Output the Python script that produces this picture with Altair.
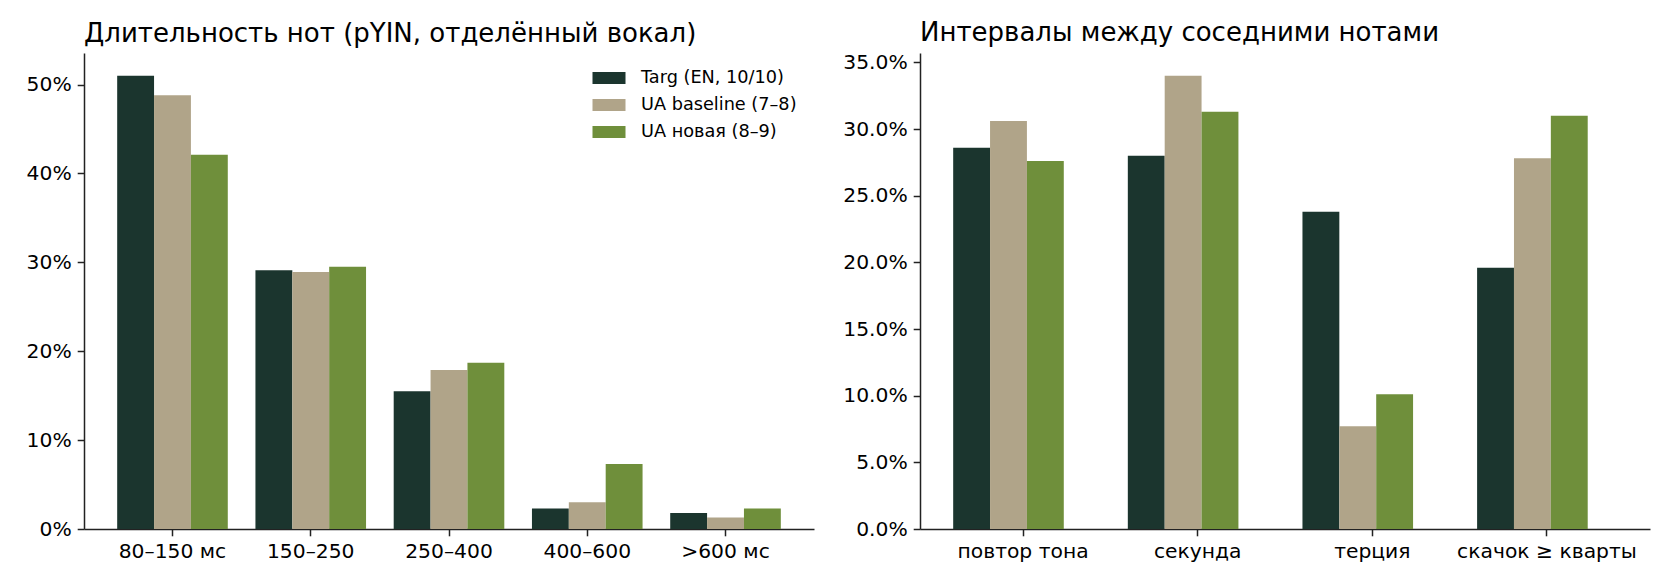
import altair as alt
import pandas as pd

# series names and colours
series = ["Targ (EN, 10/10)", "UA baseline (7–8)", "UA новая (8–9)"]
colors = ["#1b352e", "#b0a489", "#6f8f3b"]

# left panel: note durations
dur_cats = ["80–150 мс", "150–250", "250–400", "400–600", ">600 мс"]
dur_targ = [0.510, 0.291, 0.155, 0.023, 0.018]
dur_base = [0.488, 0.289, 0.179, 0.030, 0.013]
dur_new = [0.421, 0.295, 0.187, 0.073, 0.023]

# right panel: intervals between neighbouring notes
int_cats = ["повтор тона", "секунда", "терция", "скачок ≥ кварты"]
int_targ = [0.286, 0.280, 0.238, 0.196]
int_base = [0.306, 0.340, 0.077, 0.278]
int_new = [0.276, 0.313, 0.101, 0.310]


def long_df(cats, *vals):
    rows = []
    for s, v in zip(series, vals):
        for c, x in zip(cats, v):
            rows.append({"cat": c, "series": s, "value": x})
    return pd.DataFrame(rows)


FONT = "DejaVu Sans"
TICK = 20.3

dur_df = long_df(dur_cats, dur_targ, dur_base, dur_new)
int_df = long_df(int_cats, int_targ, int_base, int_new)

color_scale = alt.Scale(domain=series, range=colors)


def panel(df, cats, title, ymax, fmt, tickvals, pad_outer, legend):
    return alt.Chart(df, title=alt.TitleParams(
        title, anchor="start", frame="group", fontSize=26, font=FONT,
        fontWeight="normal", color="black", offset=-15, baseline="alphabetic")).mark_bar().encode(
        x=alt.X("cat:N", sort=cats, title=None,
                scale=alt.Scale(paddingInner=0.2, paddingOuter=pad_outer),
                axis=alt.Axis(labelAngle=0, labelFontSize=TICK, labelFont=FONT,
                              labelColor="black", tickSize=6.8, tickWidth=1.5,
                              tickColor="#222", domainColor="#222", domainWidth=1.5,
                              labelPadding=6, grid=False)),
        xOffset=alt.XOffset("series:N", sort=series,
                            scale=alt.Scale(paddingInner=0, paddingOuter=0)),
        y=alt.Y("value:Q", title=None,
                scale=alt.Scale(domain=[0, ymax], nice=False),
                axis=alt.Axis(format=fmt, values=tickvals, labelFontSize=TICK,
                              labelFont=FONT, labelColor="black", tickSize=6.8,
                              tickWidth=1.5, tickColor="#222", domainColor="#222",
                              domainWidth=1.5, labelPadding=6, grid=False)),
        color=alt.Color("series:N", sort=series, scale=color_scale, legend=legend),
    ).properties(width=730, height=476)


leg = alt.Legend(
    title=None, orient="none", legendX=515, legendY=15, padding=0,
    symbolType="M-1.65,-0.6H1.65V0.6H-1.65Z", symbolSize=400,
    symbolStrokeWidth=0, symbolOpacity=1, labelFontSize=17.7, labelFont=FONT,
    labelColor="black", labelOffset=22, rowPadding=8)

left = panel(dur_df, dur_cats, "Длительность нот (pYIN, отделённый вокал)",
             0.5355, ".0%", [0, 0.1, 0.2, 0.3, 0.4, 0.5], 0.24, leg)
right = panel(int_df, int_cats, "Интервалы между соседними нотами",
              0.357, ".1%", [0, 0.05, 0.1, 0.15, 0.2, 0.25, 0.3, 0.35], 0.19, None)

chart = alt.hconcat(left, right, spacing=28).resolve_legend(
    color="independent").configure_view(stroke=None).properties(
    padding={"left": 18, "top": 12, "right": 5, "bottom": 5})

chart.save("out.html", embed_options={"renderer": "svg", "actions": False})
